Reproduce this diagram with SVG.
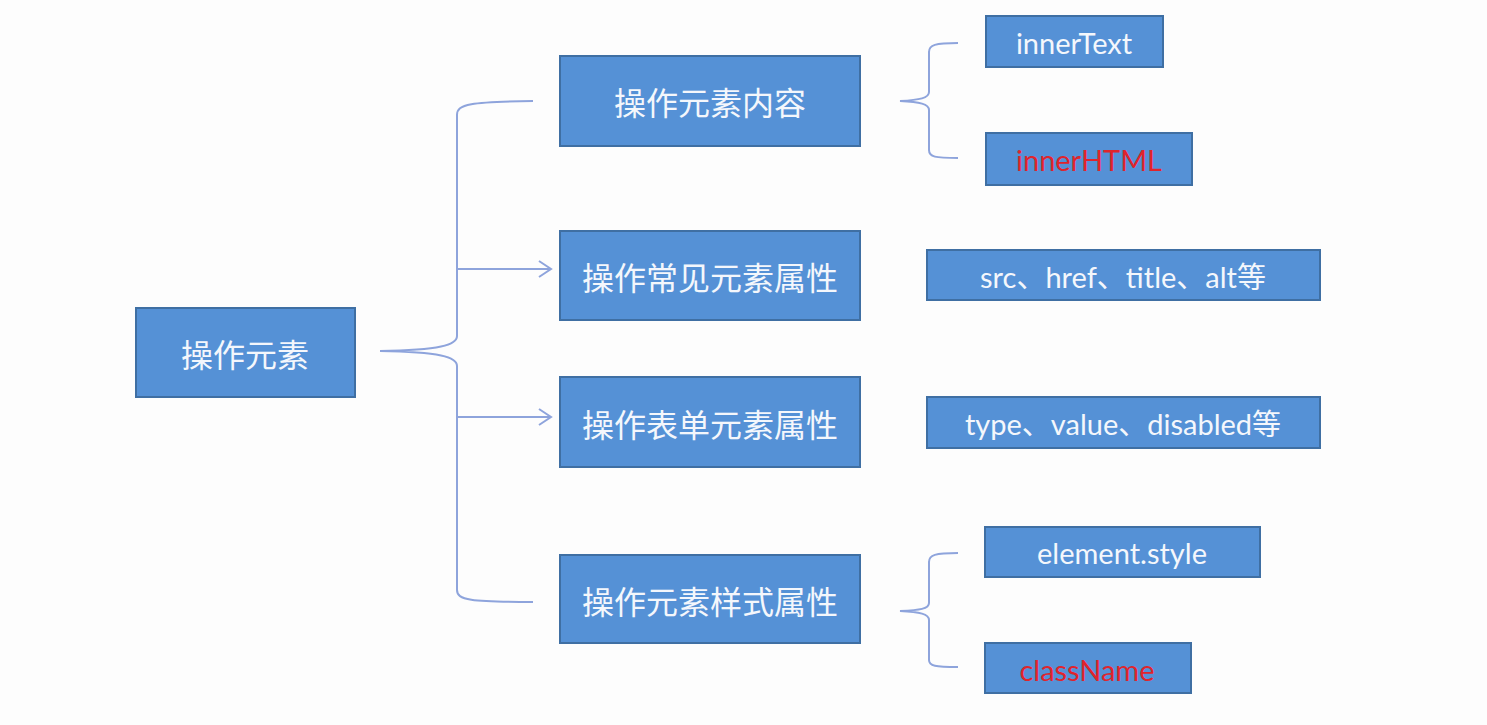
<svg xmlns="http://www.w3.org/2000/svg" width="1487" height="725" viewBox="0 0 1487 725">
<defs>
<style>
.box{fill:#5591d6;stroke:#3f6fa3;stroke-width:2}
.cn{font-family:"Noto Sans CJK SC","Noto Sans",sans-serif;font-size:32px;fill:#f4f7fc;text-anchor:middle;dominant-baseline:central}
.en{font-family:Lato,"Noto Sans CJK SC",sans-serif;font-size:29px;fill:#f4f7fc;text-anchor:middle;dominant-baseline:central}
.red{fill:#e0242c}
.ln{fill:none;stroke:#8ea4dc;stroke-width:2}
</style>
<marker id="ah" markerWidth="16" markerHeight="18" refX="14" refY="9" orient="auto" markerUnits="userSpaceOnUse">
<path d="M2,1 L14,9 L2,17" fill="none" stroke="#8ea4dc" stroke-width="2"/>
</marker>
</defs>
<rect width="1487" height="725" fill="#fdfdfd"/>
<g id="connectors">
<path class="ln" d="M533,101 C470,102 457,104 457,115 L457,336 C457,345 440,350 380,351 C440,352 457,357 457,366 L457,590 C457,600 470,602 533,602"/>
<path class="ln" d="M457,269 L551,269" marker-end="url(#ah)"/>
<path class="ln" d="M457,417 L551,417" marker-end="url(#ah)"/>
<path class="ln" d="M958,43 C935,43 929,45 929,52 L929,92 C929,98 920,100 900,101 C920,102 929,104 929,110 L929,150 C929,157 935,158 958,158"/>
<path class="ln" d="M958,553 C935,553 929,555 929,562 L929,603 C929,609 920,610 900,611 C920,612 929,614 929,620 L929,660 C929,666 935,667 958,667"/>
</g>
<g id="root"><rect class="box" x="136" y="308" width="219" height="89"/><text class="cn" x="245" y="353">操作元素</text></g>
<g id="n1"><rect class="box" x="560" y="56" width="300" height="90"/><text class="cn" x="710" y="101">操作元素内容</text></g>
<g id="n2"><rect class="box" x="560" y="231" width="300" height="89"/><text class="cn" x="710" y="276">操作常见元素属性</text></g>
<g id="n3"><rect class="box" x="560" y="377" width="300" height="90"/><text class="cn" x="710" y="423">操作表单元素属性</text></g>
<g id="n4"><rect class="box" x="560" y="555" width="300" height="88"/><text class="cn" x="710" y="600">操作元素样式属性</text></g>
<g id="innerText"><rect class="box" x="986" y="16" width="177" height="51"/><text class="en" x="1074" y="42">innerText</text></g>
<g id="innerHTML"><rect class="box" x="986" y="133" width="206" height="52"/><text class="en red" x="1089" y="159">innerHTML</text></g>
<g id="attrs"><rect class="box" x="927" y="250" width="393" height="50"/><text class="en" x="1123" y="276">src、href、title、alt等</text></g>
<g id="formattrs"><rect class="box" x="927" y="397" width="393" height="51"/><text class="en" x="1123" y="423">type、value、disabled等</text></g>
<g id="elstyle"><rect class="box" x="985" y="527" width="275" height="50"/><text class="en" x="1122" y="552">element.style</text></g>
<g id="className"><rect class="box" x="985" y="643" width="206" height="50"/><text class="en red" x="1087" y="669">className</text></g>
</svg>
